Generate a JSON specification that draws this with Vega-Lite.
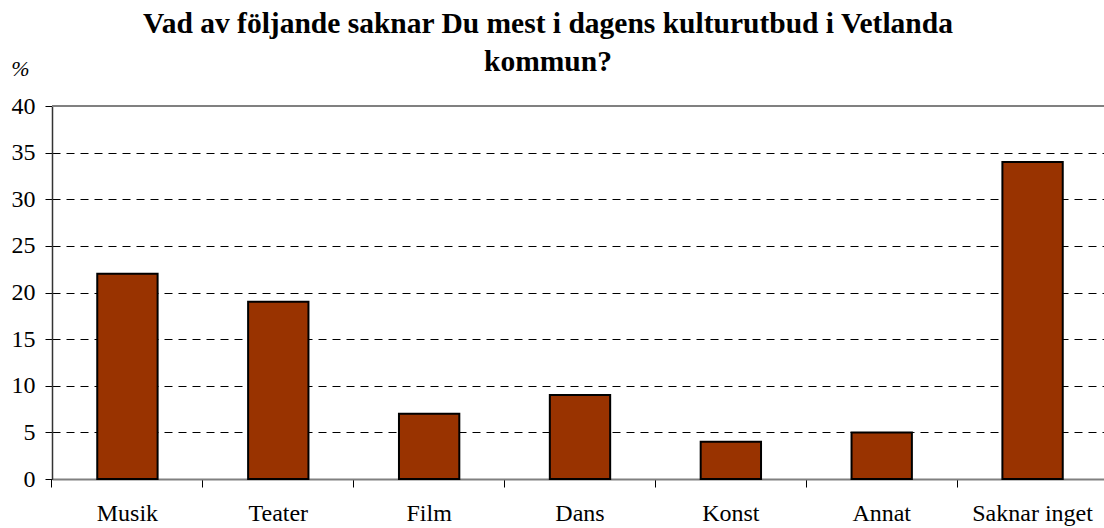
{
  "$schema": "https://vega.github.io/schema/vega-lite/v6.json",
  "width": 1056,
  "height": 373,
  "autosize": {"type": "none"},
  "padding": {"left": 52, "top": 106, "right": 0, "bottom": 49},
  "background": "white",
  "config": {"view": {"stroke": null}, "font": "Liberation Serif"},
  "title": {
    "text": ["Vad av följande saknar Du mest i dagens kulturutbud  i Vetlanda", "kommun?"],
    "font": "Liberation Serif",
    "fontSize": 29.5,
    "fontWeight": "bold",
    "color": "black",
    "anchor": "middle",
    "frame": "group",
    "dx": -32,
    "offset": -20,
    "lineHeight": 38
  },
  "data": {
    "values": [
      {"kategori": "Musik", "procent": 22},
      {"kategori": "Teater", "procent": 19},
      {"kategori": "Film", "procent": 7},
      {"kategori": "Dans", "procent": 9},
      {"kategori": "Konst", "procent": 4},
      {"kategori": "Annat", "procent": 5},
      {"kategori": "Saknar inget", "procent": 34}
    ]
  },
  "layer": [
    {
      "mark": {"type": "rule", "color": "#808080", "strokeWidth": 2},
      "encoding": {"y": {"datum": 40, "type": "quantitative"}}
    },
    {
      "mark": {"type": "bar", "color": "#993300", "stroke": "black", "strokeWidth": 2},
      "encoding": {
        "x": {
          "field": "kategori",
          "type": "nominal",
          "sort": null,
          "scale": {"paddingInner": 0.6, "paddingOuter": 0.3},
          "axis": {
            "title": null,
            "labelAngle": 0,
            "labelFont": "Liberation Serif",
            "labelFontSize": 24,
            "labelColor": "black",
            "bandPosition": -0.75,
            "tickSize": 8,
            "tickColor": "black",
            "domainColor": "#808080",
            "domainWidth": 2,
            "labelPadding": 14,
            "grid": false
          }
        },
        "y": {
          "field": "procent",
          "type": "quantitative",
          "scale": {"domain": [0, 40]},
          "axis": {
            "values": [0, 5, 10, 15, 20, 25, 30, 35, 40],
            "title": "%",
            "titleAngle": 0,
            "titleX": -32,
            "titleY": -38,
            "titleAlign": "center",
            "titleBaseline": "middle",
            "titleFont": "Liberation Serif",
            "titleFontSize": 22,
            "titleFontWeight": "normal",
            "titleFontStyle": "italic",
            "titleColor": "black",
            "labelFont": "Liberation Serif",
            "labelFontSize": 24,
            "labelColor": "black",
            "labelPadding": 10,
            "tickSize": 7,
            "tickColor": "black",
            "domainColor": "#333333",
            "domainWidth": 1.5,
            "grid": true,
            "gridColor": "black",
            "gridDash": [8, 6],
            "gridWidth": 1
          }
        }
      }
    }
  ]
}
